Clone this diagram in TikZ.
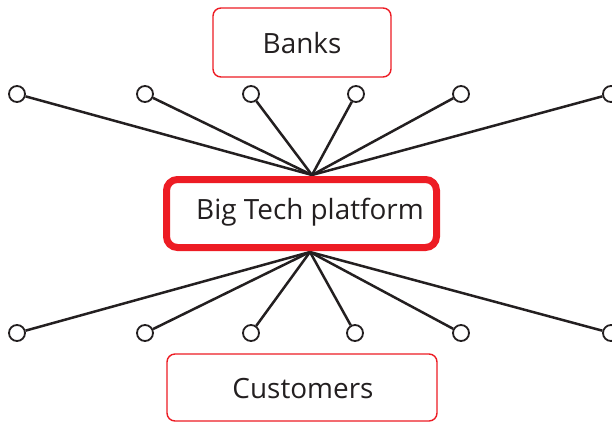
\documentclass[tikz,border=0pt]{standalone}
\usepackage{fontspec}
\setmainfont{Open Sans}
\definecolor{bred}{HTML}{ED1C24}
\definecolor{ink}{HTML}{231F20}
\begin{document}
\begin{tikzpicture}[x=1bp,y=-1bp,
  thinbox/.style={draw=bred,line width=1.4bp,rounded corners=8bp,fill=white},
  thickbox/.style={draw=bred,line width=7bp,rounded corners=11bp,fill=white},
  lbl/.style={text=ink,font=\fontsize{28}{32}\selectfont,inner sep=0pt},
  endpt/.style={circle,draw=ink,line width=1.8bp,minimum size=16bp,inner sep=0pt,fill=white},
  spoke/.style={draw=ink,line width=2.5bp}]
\useasboundingbox (0,0) rectangle (612,423);
% hubs
\coordinate (ht) at (312,175);
\coordinate (hb) at (310,252);
% top end points
\foreach \i/\x in {1/17,2/145,3/251,4/356,5/461,6/611}{
  \node[endpt] (t\i) at (\x,94) {};
  \draw[spoke] (t\i) -- (ht);
}
\foreach \i/\x in {1/17,2/145,3/251,4/355,5/461,6/611}{
  \node[endpt] (b\i) at (\x,333) {};
  \draw[spoke] (b\i) -- (hb);
}
% boxes
\node[thinbox,minimum width=178bp,minimum height=69bp] (banks) at (302,42.5) {};
\node[lbl] (banksl) at (302,43) {Banks};
\node[thickbox,minimum width=270bp,minimum height=68bp] (big) at (301.5,213.5) {};
\node[lbl] (bigl) at (310,212) {Big Tech platform};
\node[thinbox,minimum width=270bp,minimum height=67bp] (cust) at (302,387.5) {};
\node[lbl] (custl) at (303,389) {Customers};
\end{tikzpicture}
\end{document}
